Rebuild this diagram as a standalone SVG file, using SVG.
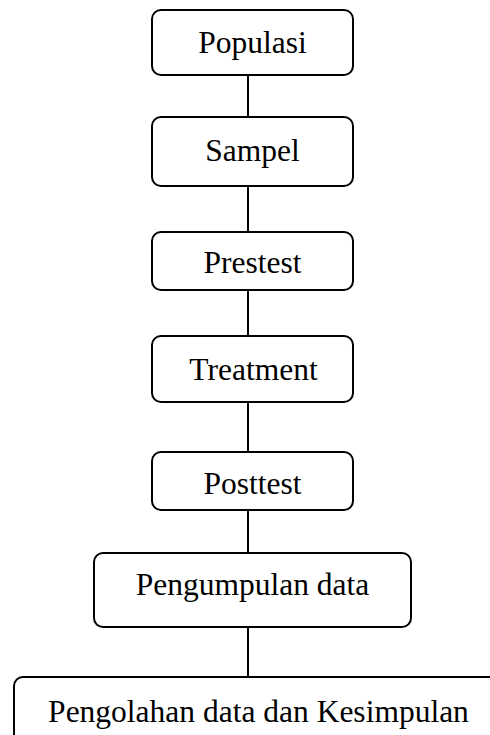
<svg xmlns="http://www.w3.org/2000/svg" width="490" height="735" viewBox="0 0 490 735">
  <style>
    .box { fill: #ffffff; stroke: #000000; stroke-width: 2; }
    .lbl { font-family: "Liberation Serif", "Times New Roman", serif; font-size: 31.5px; fill: #000000; text-anchor: middle; }
    .conn line { stroke: #000000; stroke-width: 2; }
  </style>
  <rect width="490" height="735" fill="#ffffff"/>

  <!-- connectors between steps -->
  <g id="connectors" class="conn">
    <line x1="248" y1="75" x2="248" y2="117"/>
    <line x1="248" y1="186" x2="248" y2="232"/>
    <line x1="248" y1="290" x2="248" y2="336"/>
    <line x1="248" y1="402" x2="248" y2="452"/>
    <line x1="248" y1="510" x2="248" y2="553"/>
    <line x1="248" y1="627" x2="248" y2="677"/>
  </g>

  <g id="populasi">
    <rect class="box" x="152" y="10" width="201" height="65" rx="9"/>
    <text class="lbl" x="252.5" y="53">Populasi</text>
  </g>
  <g id="sampel">
    <rect class="box" x="152" y="117" width="201" height="69" rx="9"/>
    <text class="lbl" x="252.5" y="161">Sampel</text>
  </g>
  <g id="prestest">
    <rect class="box" x="152" y="232" width="201" height="58" rx="9"/>
    <text class="lbl" x="252.5" y="273">Prestest</text>
  </g>
  <g id="treatment">
    <rect class="box" x="152" y="336" width="201" height="66" rx="9"/>
    <text class="lbl" x="253.5" y="380">Treatment</text>
  </g>
  <g id="posttest">
    <rect class="box" x="152" y="452" width="201" height="58" rx="9"/>
    <text class="lbl" x="252.5" y="494">Posttest</text>
  </g>
  <g id="pengumpulan">
    <rect class="box" x="94" y="553" width="317" height="74" rx="9"/>
    <text class="lbl" x="252.5" y="595">Pengumpulan data</text>
  </g>
  <g id="pengolahan">
    <rect class="box" x="14" y="677" width="500" height="80" rx="9"/>
    <text class="lbl" x="258.5" y="722">Pengolahan data dan Kesimpulan</text>
  </g>
</svg>
